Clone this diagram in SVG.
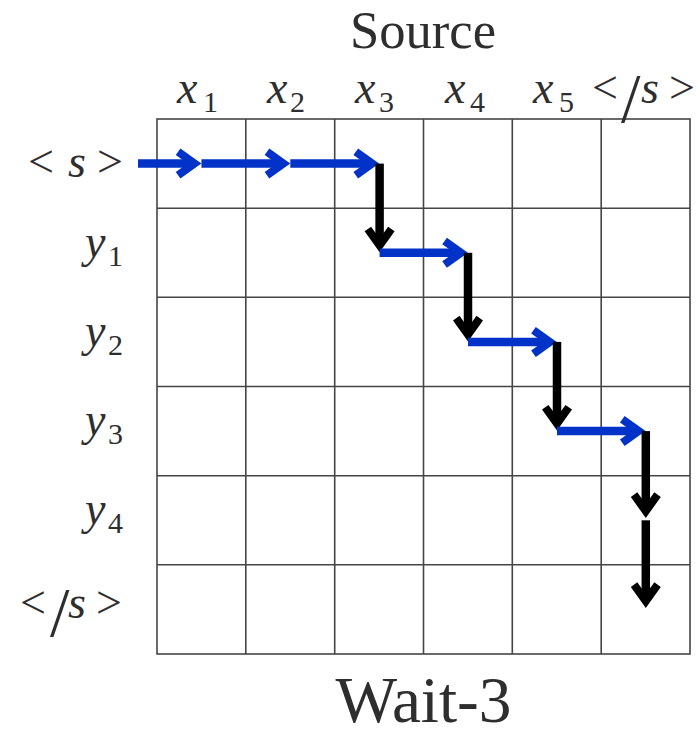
<svg xmlns="http://www.w3.org/2000/svg" width="698" height="737" viewBox="0 0 698 737">
<style>
.t{font-family:"Liberation Serif","DejaVu Serif","Noto Serif",serif;fill:#2e2e2e}
.m{font-family:"Liberation Serif","DejaVu Serif","Noto Serif",serif;font-style:italic;font-size:46px;fill:#2e2e2e}
.u{font-style:normal}
.sub{font-style:normal;font-size:30px}
.sl{font-style:normal;font-size:70px}
.g{stroke:#454545;stroke-width:1.6;fill:none}
.b{stroke:#0332c9;stroke-width:8.5;fill:none}
.k{stroke:#000;stroke-width:8.5;fill:none}
</style>
<defs>
<marker id="hb" markerUnits="userSpaceOnUse" markerWidth="30" markerHeight="32" refX="18" refY="16" orient="auto" overflow="visible">
<polygon points="28,16 7,1 2.35,7.5 14.25,16 2.35,24.5 7,31" fill="#0332c9"/>
</marker>
<marker id="hk" markerUnits="userSpaceOnUse" markerWidth="30" markerHeight="32" refX="18" refY="16" orient="auto" overflow="visible">
<polygon points="28,16 7,1 2.35,7.5 14.25,16 2.35,24.5 7,31" fill="#000"/>
</marker>
</defs>
<rect width="698" height="737" fill="#fff"/>
<g id="grid" class="g">
<rect x="157" y="119" width="533" height="535"/>
<path d="M245.8 119V654M334.7 119V654M423.5 119V654M512.3 119V654M601.2 119V654M157 208.2H690M157 297.3H690M157 386.5H690M157 475.7H690M157 564.8H690"/>
</g>
<g id="title"><text class="t" x="423" y="48" font-size="53" text-anchor="middle" textLength="146" lengthAdjust="spacingAndGlyphs">Source</text></g>
<g id="caption"><text class="t" x="423.5" y="722" font-size="66" text-anchor="middle" textLength="176" lengthAdjust="spacingAndGlyphs">Wait-3</text></g>
<g id="src-x1"><text class="m" x="177" y="103">x<tspan class="sub" x="203" y="112">1</tspan></text></g>
<g id="src-x2"><text class="m" x="267" y="103">x<tspan class="sub" x="290" y="112">2</tspan></text></g>
<g id="src-x3"><text class="m" x="355" y="103">x<tspan class="sub" x="379" y="112">3</tspan></text></g>
<g id="src-x4"><text class="m" x="445" y="103">x<tspan class="sub" x="470" y="112">4</tspan></text></g>
<g id="src-x5"><text class="m" x="533" y="103">x<tspan class="sub" x="559" y="112">5</tspan></text></g>
<g id="src-eos"><text class="m" x="592" y="103"><tspan class="u">&lt;</tspan><tspan class="sl" x="621" y="122">/</tspan><tspan x="641" y="103">s</tspan><tspan class="u" x="669">&gt;</tspan></text></g>
<g id="tgt-bos"><text class="m" x="28" y="177"><tspan class="u">&lt;</tspan><tspan x="68">s</tspan><tspan class="u" x="97">&gt;</tspan></text></g>
<g id="tgt-y1"><text class="m" x="85" y="257">y<tspan class="sub" x="108" y="266">1</tspan></text></g>
<g id="tgt-y2"><text class="m" x="85" y="346">y<tspan class="sub" x="108" y="355">2</tspan></text></g>
<g id="tgt-y3"><text class="m" x="85" y="435">y<tspan class="sub" x="108" y="444">3</tspan></text></g>
<g id="tgt-y4"><text class="m" x="85" y="524">y<tspan class="sub" x="108" y="533">4</tspan></text></g>
<g id="tgt-eos"><text class="m" x="20" y="618"><tspan class="u">&lt;</tspan><tspan class="sl" x="50" y="636">/</tspan><tspan x="68" y="618">s</tspan><tspan class="u" x="96">&gt;</tspan></text></g>
<g id="connectors">
<line class="b" x1="138" y1="163.6" x2="191.4" y2="163.6" marker-end="url(#hb)"/>
<line class="b" x1="201.4" y1="163.6" x2="280.3" y2="163.6" marker-end="url(#hb)"/>
<line class="b" x1="290.3" y1="163.6" x2="369.1" y2="163.6" marker-end="url(#hb)"/>
<line class="k" x1="379.6" y1="163.6" x2="379.6" y2="242.3" marker-end="url(#hk)"/>
<line class="b" x1="379.6" y1="252.8" x2="457.9" y2="252.8" marker-end="url(#hb)"/>
<line class="k" x1="468" y1="252.8" x2="468" y2="331.4" marker-end="url(#hk)"/>
<line class="b" x1="468" y1="341.9" x2="546.8" y2="341.9" marker-end="url(#hb)"/>
<line class="k" x1="557" y1="341.9" x2="557" y2="420.6" marker-end="url(#hk)"/>
<line class="b" x1="557" y1="431.1" x2="635.6" y2="431.1" marker-end="url(#hb)"/>
<line class="k" x1="645.8" y1="431.1" x2="645.8" y2="508" marker-end="url(#hk)"/>
<line class="k" x1="645.8" y1="520.3" x2="645.8" y2="598" marker-end="url(#hk)"/>
</g>
</svg>
